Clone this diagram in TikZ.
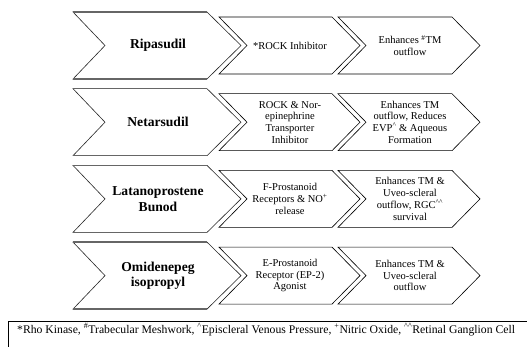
\documentclass[tikz,border=0pt]{standalone}
\usepackage{fontspec}
\setmainfont{Liberation Serif}
\begin{document}
\begin{tikzpicture}[x=1pt,y=-1pt,
  bigedge/.style={draw=black!85, line width=0.6pt, line join=miter},
  bigrule/.style={draw=black!60, line width=1.3pt},
  smallchev/.style={draw=black, line width=0.6pt, line join=miter},
  bigtxt/.style={font=\fontsize{13.6}{15.5}\selectfont\bfseries, align=center, inner sep=0pt},
  smalltxt/.style={font=\fontsize{10.5}{11.7}\selectfont, align=center, inner sep=0pt},
  foot/.style={font=\fontsize{11.7}{13}\selectfont, anchor=base west, inner sep=0pt}]
\useasboundingbox (0,0) rectangle (527,347);
\clip (0,0) rectangle (527,347);
\fill[white] (0,0) rectangle (527,347);
\foreach \r/\na/\ta/\tb/\tc in {
  0/rip/{Ripasudil}/{*ROCK Inhibitor}/{Enhances \textsuperscript{\#}TM\\outflow},
  1/net/{Netarsudil}/{ROCK \& Nor-\\epinephrine\\Transporter\\Inhibitor}/{Enhances TM\\outflow, Reduces\\EVP\textsuperscript{\textasciicircum} \& Aqueous\\Formation},
  2/lat/{Latanoprostene\\Bunod}/{F-Prostanoid\\Receptors \& NO\textsuperscript{+}\\release}/{Enhances TM \&\\Uveo-scleral\\outflow, RGC\textsuperscript{\textasciicircum\textasciicircum}\\survival},
  3/omi/{Omidenepeg\\isopropyl}/{E-Prostanoid\\Receptor (EP-2)\\Agonist}/{Enhances TM \&\\Uveo-scleral\\outflow}}
{
  \pgfmathsetmacro\cy{45.5+76.7*\r}
  % big chevron
  \draw[bigedge] (73,\cy-33.5) -- (207,\cy-33.5) -- (241,\cy) -- (207,\cy+33.5)
     -- (73,\cy+33.5) -- (105,\cy) -- cycle;
  \draw[bigrule] (73,\cy-33.5) -- (207,\cy-33.5);
  \draw[bigrule] (73,\cy+33.5) -- (207,\cy+33.5);
  % small chevron 1
  \draw[smallchev] (219,\cy-28.5) -- (332,\cy-28.5) -- (360,\cy) -- (332,\cy+28.5)
     -- (219,\cy+28.5) -- (247,\cy) -- cycle;
  % small chevron 2
  \draw[smallchev] (338,\cy-28.5) -- (452,\cy-28.5) -- (480,\cy) -- (452,\cy+28.5)
     -- (338,\cy+28.5) -- (366,\cy) -- cycle;
  \node[bigtxt] (drug\na) at (158,\cy) {\ta};
  \node[smalltxt] (mech\na) at (290,\cy) {\tb};
  \node[smalltxt] (eff\na) at (410,\cy) {\tc};
}
\draw[line width=0.6pt] (8,321) rectangle (545,360);
\node[foot] (footnote) at (17,333) {*Rho Kinase, \textsuperscript{\#}Trabecular Meshwork, \textsuperscript{\textasciicircum}Episcleral Venous Pressure, \textsuperscript{+}Nitric Oxide, \textsuperscript{\textasciicircum\textasciicircum}Retinal Ganglion Cell};
\end{tikzpicture}
\end{document}
